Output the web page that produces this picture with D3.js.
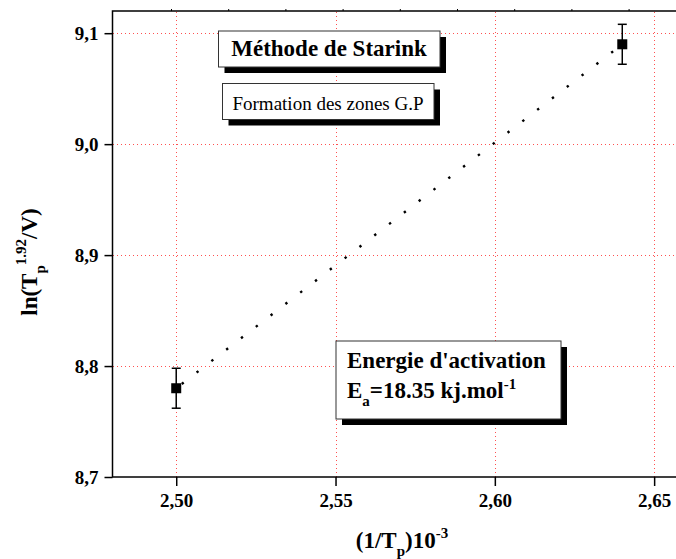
<!DOCTYPE html>
<html>
<head>
<meta charset="utf-8">
<script src="https://cdn.jsdelivr.net/npm/d3@7"></script>
<style>
  body { margin: 0; background: #fff; }
  svg { display: block; }
  text { font-family: "Liberation Serif", "Times New Roman", serif; fill: #000; }
  .tick text { font-weight: bold; font-size: 19px; }
</style>
</head>
<body>
<script>
'use-strict';

// measured points (1/Tp . 10^3, ln(Tp^1.92/V)) with error
let xValues = [2.50, 2.64];
let yValues = [8.78, 9.09];
let yErrors = [0.018, 0.018];

// linear fit through the points
let fitX = [2.50, 2.64];
let fitY = [8.78, 9.09];

// tick labels
let xTicks = [2.50, 2.55, 2.60, 2.65];
let yTicks = [8.7, 8.8, 8.9, 9.0, 9.1];
let topTicks = [0, 1, 2, 3, 4, 5, 6, 7, 8];

let W = 676, H = 559;
let margin = { top: 11, left: 112.5, bottom: 82, right: -10 };
let width = W - margin.left - margin.right,
  height = H - margin.top - margin.bottom;

let svg = d3.select("body").append("svg")
  .attr("width", W)
  .attr("height", H);

let xScale = d3.scaleLinear().domain([2.48, 2.66]).range([margin.left, margin.left + width]);
let yScale = d3.scaleLinear().domain([8.7, 9.12]).range([margin.top + height, margin.top]);
let topScale = d3.scaleLinear().domain([0, 1]).range([171, 228.2]);

let fmt = d => d3.format(d >= 2 && d < 3 ? ".2f" : ".1f")(d).replace(".", ",");
let px = v => Math.round(v) + 0.5;

// red dotted grid
let grid = svg.append("g")
  .attr("stroke", "#ff5050").attr("stroke-width", 1)
  .attr("stroke-dasharray", "1,3")
  .attr("shape-rendering", "crispEdges");
grid.selectAll(".gx")
  .data(xTicks)
  .enter().append("line")
  .attr("x1", d => px(xScale(d))).attr("x2", d => px(xScale(d)))
  .attr("y1", yScale.range()[0]).attr("y2", yScale.range()[1]);
grid.selectAll(".gy")
  .data(yTicks.slice(1))
  .enter().append("line")
  .attr("y1", d => px(yScale(d))).attr("y2", d => px(yScale(d)))
  .attr("x1", xScale.range()[0]).attr("x2", xScale.range()[1]);

// frame
svg.append("rect")
  .attr("x", margin.left).attr("y", margin.top)
  .attr("width", width).attr("height", height)
  .attr("fill", "none").attr("stroke", "#000").attr("stroke-width", 1.5);

// axes
let xAxis = d3.axisBottom(xScale).tickValues(xTicks).tickSize(9).tickPadding(8).tickFormat(fmt);
let gx = svg.append("g")
  .attr("transform", "translate(0," + (margin.top + height) + ")")
  .call(xAxis);
gx.select(".domain").remove();
gx.selectAll(".tick line").attr("stroke-width", 1.5);

let yAxis = d3.axisLeft(yScale).tickValues(yTicks).tickSize(8).tickPadding(6).tickFormat(fmt);
let gy = svg.append("g")
  .attr("transform", "translate(" + margin.left + ",0)")
  .call(yAxis);
gy.select(".domain").remove();
gy.selectAll(".tick line").attr("stroke-width", 1.5);
gy.selectAll(".tick text").attr("dy", "0.35em");

let gt = svg.append("g")
  .attr("transform", "translate(0," + margin.top + ")")
  .call(d3.axisTop(topScale).tickValues(topTicks).tickSize(2).tickFormat(""));
gt.select(".domain").remove();

// text boxes with drop shadow
function box(x, y, w, h) {
  svg.append("rect").attr("x", x + 6).attr("y", y + 6).attr("width", w).attr("height", h).attr("fill", "#000");
  svg.append("rect").attr("x", x).attr("y", y).attr("width", w).attr("height", h)
    .attr("fill", "#fff").attr("stroke", "#333").attr("stroke-width", 1);
}

box(218.5, 31, 221.5, 36);
svg.append("text")
  .attr("x", 329).attr("y", 56)
  .attr("text-anchor", "middle")
  .style("font-size", "23px").style("font-weight", "bold")
  .text("Méthode de Starink");

box(222.5, 83.5, 211.5, 36);
svg.append("text")
  .attr("x", 328).attr("y", 110)
  .attr("text-anchor", "middle")
  .style("font-size", "19px")
  .text("Formation des zones G.P");

box(336, 341, 225, 78);
svg.append("text")
  .attr("x", 347).attr("y", 368)
  .style("font-size", "23px").style("font-weight", "bold")
  .text("Energie d'activation");
let ea = svg.append("text")
  .attr("x", 347).attr("y", 398)
  .style("font-size", "23px").style("font-weight", "bold");
ea.append("tspan").text("E");
ea.append("tspan").attr("dy", 8).style("font-size", "15px").text("a");
ea.append("tspan").attr("dy", -8).text("=18.35 kj.mol");
ea.append("tspan").attr("dy", -9).style("font-size", "15px").text("-1");

// fit line (dotted)
let line = d3.line().x(d => xScale(d[0])).y(d => yScale(d[1]));
svg.append("path")
  .datum(d3.zip(fitX, fitY))
  .attr("d", line)
  .attr("fill", "none").attr("stroke", "#000").attr("stroke-width", 2.4)
  .attr("stroke-dasharray", "2.4,16.3")
  .attr("stroke-dashoffset", -7);

// error bars and squares
let pts = d3.zip(xValues, yValues, yErrors);
let eb = svg.append("g").attr("stroke", "#000").attr("stroke-width", 1.5);
pts.forEach(p => {
  let cx = xScale(p[0]);
  eb.append("line").attr("x1", cx).attr("x2", cx).attr("y1", yScale(p[1] - p[2])).attr("y2", yScale(p[1] + p[2]));
  eb.append("line").attr("x1", cx - 4.5).attr("x2", cx + 4.5).attr("y1", yScale(p[1] - p[2])).attr("y2", yScale(p[1] - p[2]));
  eb.append("line").attr("x1", cx - 4.5).attr("x2", cx + 4.5).attr("y1", yScale(p[1] + p[2])).attr("y2", yScale(p[1] + p[2]));
});
svg.selectAll(".pt")
  .data(pts)
  .enter().append("rect")
  .attr("x", d => xScale(d[0]) - 5).attr("y", d => yScale(d[1]) - 5)
  .attr("width", 10).attr("height", 10).attr("fill", "#000");

// axis titles
let xt = svg.append("text")
  .attr("x", 402).attr("y", 548)
  .attr("text-anchor", "middle")
  .style("font-size", "23px").style("font-weight", "bold");
xt.append("tspan").text("(1/T");
xt.append("tspan").attr("dy", 8).style("font-size", "15px").text("p");
xt.append("tspan").attr("dy", -8).text(")10");
xt.append("tspan").attr("dy", -10).style("font-size", "15px").text("-3");

let yt = svg.append("text")
  .attr("transform", "translate(37,262) rotate(-90)")
  .attr("text-anchor", "middle")
  .style("font-size", "23px").style("font-weight", "bold");
yt.append("tspan").text("ln(T");
yt.append("tspan").attr("dy", 8).style("font-size", "15px").text("p");
yt.append("tspan").attr("dy", -19).style("font-size", "15px").text("1.92");
yt.append("tspan").attr("dy", 11).text("/V)");
</script>
</body>
</html>
